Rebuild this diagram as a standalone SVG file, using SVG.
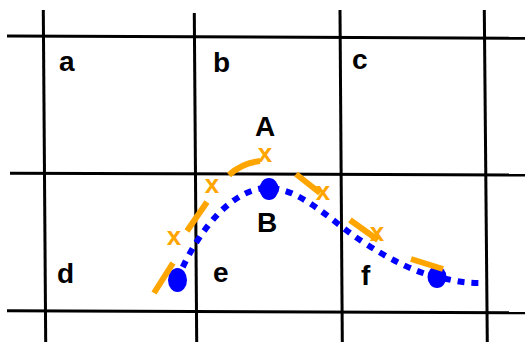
<svg xmlns="http://www.w3.org/2000/svg" width="525" height="342" viewBox="0 0 525 342">
<style>
.grid{stroke:#000;stroke-width:3;fill:none}
.lbl{font-family:"Liberation Sans",Arial,sans-serif;font-weight:bold;font-size:28px;fill:#000}
.ox{font-family:"Liberation Sans",Arial,sans-serif;font-weight:bold;font-size:26px;fill:#FFA500;text-anchor:middle}
.oseg{stroke:#FFA500;stroke-width:6;fill:none}
.bdot{stroke:#0000FF;stroke-width:6;fill:none;stroke-dasharray:7 7}
.bnode{fill:#0000FF}
</style>
<rect width="525" height="342" fill="#fff"/>
<g id="grid">
<line class="grid" x1="43.3" y1="10" x2="45.7" y2="342"/>
<line class="grid" x1="194.3" y1="13" x2="196.7" y2="342"/>
<line class="grid" x1="340" y1="10" x2="342.3" y2="342"/>
<line class="grid" x1="484.3" y1="10" x2="487.3" y2="342"/>
<line class="grid" x1="7" y1="36" x2="525" y2="38.3"/>
<line class="grid" x1="10" y1="173.3" x2="525" y2="175"/>
<line class="grid" x1="7" y1="310.7" x2="525" y2="312.7"/>
</g>
<g id="labels">
<text class="lbl" x="59" y="71">a</text>
<text class="lbl" x="213" y="72">b</text>
<text class="lbl" x="352" y="69">c</text>
<text class="lbl" x="255" y="136">A</text>
<text class="lbl" x="257" y="232">B</text>
<text class="lbl" x="57" y="283">d</text>
<text class="lbl" x="213" y="282">e</text>
<text class="lbl" x="361" y="285">f</text>
</g>
<g id="curveB">
<path class="bdot" d="M177,280 C200,225 235,188 268,188 C300,188 330,220 360,240 C390,260 415,272 437,277 C455,281 465,283 480,283"/>
<ellipse class="bnode" cx="177.5" cy="280" rx="9.5" ry="12"/>
<ellipse class="bnode" cx="269" cy="189" rx="9.5" ry="11"/>
<ellipse class="bnode" cx="437" cy="277" rx="9.5" ry="11"/>
</g>
<g id="curveA">
<line class="oseg" x1="154" y1="293" x2="173" y2="263"/>
<line class="oseg" x1="187" y1="231" x2="207" y2="202"/>
<path class="oseg" d="M229,175 Q242,163 260,161"/>
<line class="oseg" x1="296" y1="174" x2="320" y2="193"/>
<line class="oseg" x1="350" y1="220" x2="378" y2="240"/>
<line class="oseg" x1="411" y1="259" x2="443" y2="269"/>
<text class="ox" x="174" y="245">x</text>
<text class="ox" x="212" y="193">x</text>
<text class="ox" x="265" y="162">x</text>
<text class="ox" x="323" y="200">x</text>
<text class="ox" x="377" y="241">x</text>
</g>
</svg>
